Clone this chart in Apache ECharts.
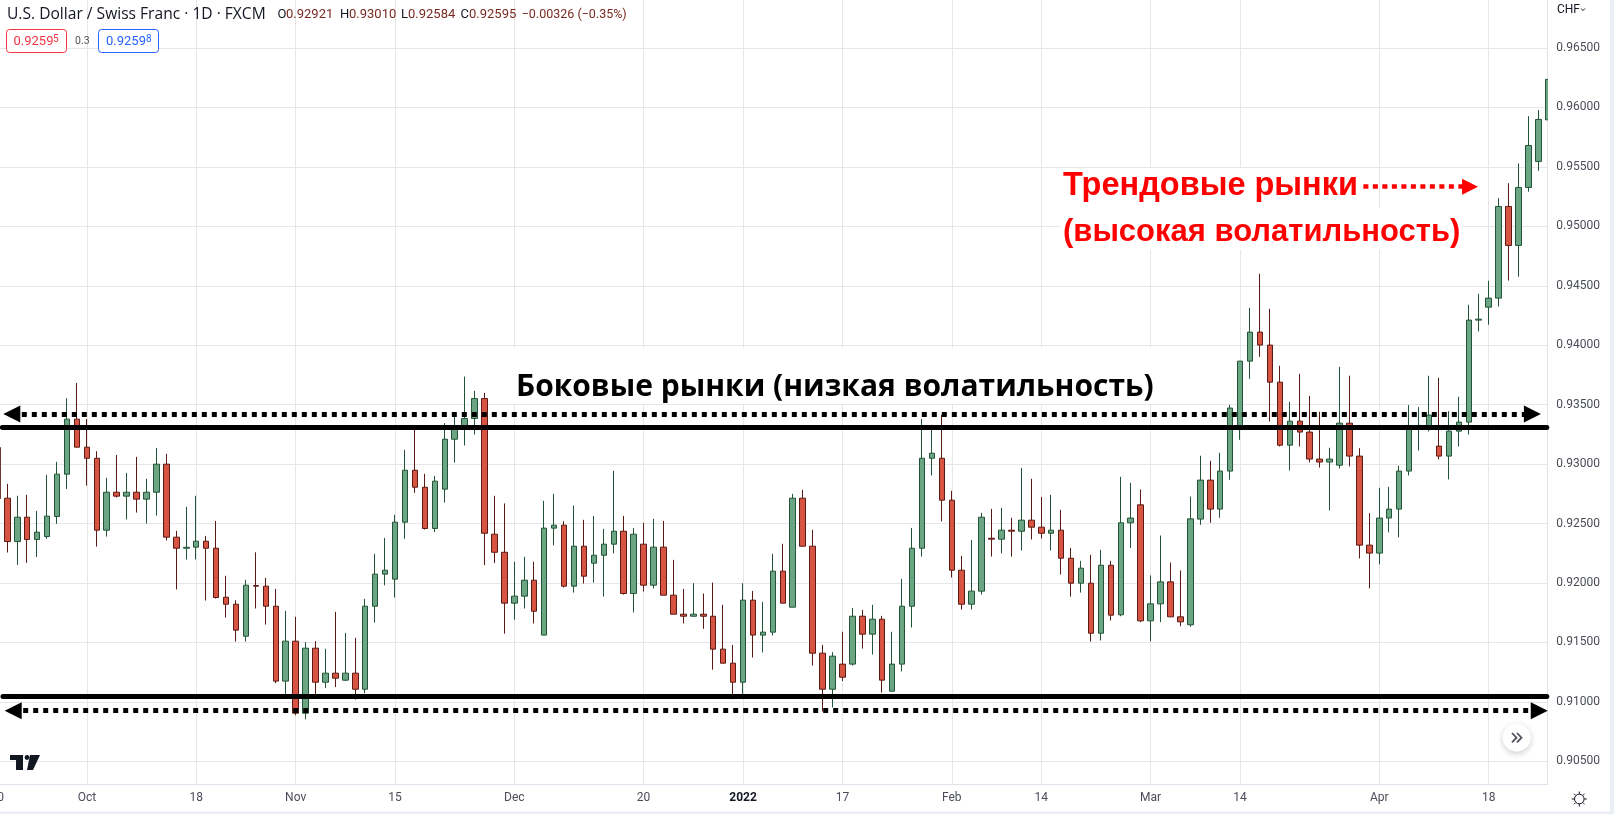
<!DOCTYPE html>
<html>
<head>
<meta charset="utf-8">
<style>html,body{margin:0;padding:0;background:#fff}#c{width:1614px;height:814px}</style>
<script src="https://cdn.jsdelivr.net/npm/echarts@6/dist/echarts.min.js"></script>
</head>
<body>
<div id="c"></div>
<script>
const opens = [.92713,.92348,.92553,.92365,.92390,.92559,.92915,.93378,.93142,.93049,
.92444,.92763,.92730,.92763,.92705,.92763,.92999,.92385,.92292,.92301,
.92351,.92292,.91880,.91821,.91552,.91978,.91973,.91804,.91174,.91510,
.90904,.91451,.91165,.91241,.91182,.91241,.91106,.91804,.92074,.92032,
.92511,.92948,.92805,.92458,.92789,.93209,.93302,.93383,.93551,.92410,
.92258,.91830,.91889,.92023,.91561,.92461,.92486,.91973,.92309,.92166,
.92233,.92326,.92435,.91911,.92326,.91981,.92301,.91897,.91737,.91720,
.91737,.91720,.91443,.91325,.91165,.91855,.91561,.91586,.92099,.91796,
.92713,.92309,.91409,.91106,.91317,.91317,.91720,.91569,.91695,.91089,
.91317,.91804,.92292,.93049,.93049,.92696,.92107,.91821,.91931,.92376,
.92368,.92444,.92435,.92528,.92469,.92418,.92444,.92208,.91998,.91998,
.91577,.92149,.91732,.92506,.92657,.91681,.91824,.92009,.91715,.91648,
.92537,.92865,.92621,.92941,.93316,.93866,.94110,.94001,.93689,.93159,
.93361,.93269,.93042,.93017,.92991,.93344,.93067,.92318,.92251,.92546,
.92621,.92941,.93300,.93316,.93151,.93067,.93277,.93353,.94211,.94320,
.94396,.95167,.94839,.95327,.95546,.95896];
const closes = [.92348,.92553,.92365,.92427,.92562,.92915,.93378,.93142,.93049,.92444,
.92763,.92730,.92763,.92705,.92763,.92999,.92385,.92292,.92300,.92351,
.92292,.91877,.91821,.91603,.91981,.91973,.91804,.91174,.91510,.90904,
.91451,.91165,.91241,.91199,.91241,.91106,.91804,.92074,.92107,.92511,
.92948,.92805,.92458,.92856,.93209,.93310,.93383,.93551,.92418,.92258,
.91830,.91889,.92023,.91762,.92461,.92486,.91973,.92309,.92057,.92233,
.92326,.92435,.91911,.92410,.91981,.92301,.91897,.91737,.91720,.91737,
.91720,.91443,.91325,.91165,.91855,.91561,.91586,.92099,.91830,.92713,
.92309,.91409,.91106,.91384,.91207,.91720,.91569,.91695,.91182,.91317,
.91804,.92292,.93049,.93091,.92696,.92107,.91821,.91931,.92553,.92368,
.92444,.92435,.92528,.92469,.92418,.92444,.92208,.91998,.92124,.91577,
.92149,.91729,.92506,.92546,.91681,.91824,.92009,.91715,.91673,.92539,
.92865,.92621,.92941,.93471,.93866,.94110,.94001,.93689,.93159,.93361,
.93269,.93042,.93017,.93042,.93344,.93067,.92318,.92251,.92546,.92621,
.92941,.93302,.93325,.93412,.93067,.93277,.93353,.94211,.94219,.94396,
.95167,.94839,.95327,.95680,.95899,.96236];
const lows = [.92256,.92152,.92169,.92219,.92371,.92497,.92791,.93142,.92819,.92306,
.92390,.92719,.92534,.92592,.92500,.92567,.92357,.91945,.92197,.92197,
.91852,.91869,.91709,.91507,.91507,.91785,.91650,.91157,.91028,.90887,
.90853,.91059,.91115,.91124,.91174,.91019,.91072,.91667,.91980,.91877,
.92371,.92758,.92449,.92428,.92676,.93013,.93156,.93249,.92150,.92167,
.91573,.91691,.91785,.91659,.91561,.92315,.91962,.91919,.91995,.92003,
.91885,.92248,.91902,.91752,.91928,.91953,.91897,.91737,.91659,.91720,
.91614,.91270,.91325,.91022,.91067,.91373,.91415,.91558,.91830,.91796,
.92309,.91305,.90918,.90952,.91174,.91305,.91448,.91398,.91078,.91089,
.91255,.91625,.92222,.92904,.92517,.92046,.91776,.91776,.91903,.92222,
.92248,.92222,.92273,.92365,.92374,.92273,.92071,.91885,.91919,.91507,
.91516,.91684,.91720,.92293,.91670,.91510,.91670,.91715,.91636,.91631,
.92489,.92506,.92548,.92868,.93204,.93717,.93902,.93358,.93148,.92946,
.93148,.93014,.92971,.92610,.92963,.92980,.92206,.91954,.92156,.92425,
.92383,.92904,.93114,.93274,.93039,.92871,.93148,.93249,.94116,.94172,
.94326,.94544,.94576,.95291,.95467,.95896];
const highs = [.92834,.92733,.92741,.92606,.92909,.93019,.93554,.93683,.93380,.93108,
.92884,.93077,.92926,.93061,.92876,.93136,.93086,.92438,.92640,.92733,
.92396,.92522,.92060,.91855,.92026,.92258,.92043,.91950,.91765,.91715,
.91502,.91510,.91446,.91757,.91580,.91538,.91866,.92245,.92379,.92573,
.93120,.93310,.92918,.92901,.93344,.93406,.93736,.93616,.93599,.92733,
.92669,.92178,.92220,.92178,.92691,.92749,.92520,.92651,.92531,.92564,
.92455,.92943,.92564,.92463,.92505,.92539,.92522,.92194,.91950,.91998,
.91911,.92003,.91816,.91479,.91998,.91933,.91841,.92245,.92329,.92749,
.92783,.92447,.91479,.91418,.91589,.91790,.91774,.91816,.91723,.91589,
.92034,.92463,.93380,.93330,.93414,.92775,.92228,.92362,.92590,.92623,
.92632,.92548,.92968,.92876,.92724,.92741,.92615,.92295,.92186,.92236,
.92278,.92186,.92893,.92842,.92786,.92063,.92399,.92172,.92105,.92727,
.93070,.93028,.93095,.93496,.93866,.94315,.94601,.94306,.93827,.93524,
.93759,.93574,.93440,.93137,.93818,.93743,.93134,.92587,.92800,.92809,
.92986,.93496,.93479,.93743,.93726,.93445,.93566,.94340,.94432,.94542,
.95237,.95363,.95529,.95927,.95978,.96236];
const edgeWick = [.92707,.93142];
const tickIndexes = [9,20,30,40,52,65,75,85,96,105,116,125,139,150];
const tickLabels = ['Oct','18','Nov','15','Dec','20','2022','17','Feb','14','Mar','14','Apr','18'];
const priceTicks = [.905,.91,.915,.92,.925,.93,.935,.94,.945,.95,.955,.96,.965];
const channelLevels = [.93311,.91049];
const arrowLevels = [.93422,.90925];
const trendArrowLevel = .95333;
const sideText = 'Боковые рынки (низкая волатильность)';
const trendText1 = 'Трендовые рынки';
const trendText2 = '(высокая волатильность)';

const rows = opens.map((o,i)=>[i+1,o,closes[i],lows[i],highs[i]]);
const PLOT_R = 1547.3, AXIS_Y = 784.3;
const SUN = [];
for (let k=0;k<8;k++){const a=k*Math.PI/4;SUN.push({type:'line',z:20,shape:{x1:1579.3+5*Math.cos(a),y1:799+5*Math.sin(a),x2:1579.3+7.5*Math.cos(a),y2:799+7.5*Math.sin(a)},style:{stroke:'#131722',lineWidth:1}});}
const txt=(x,y,t,o={})=>({type:'text',x,y,z:20,style:Object.assign({text:t,font:'13px Roboto',fill:'#131722',textVerticalAlign:'middle',verticalAlign:'middle'},o)});
const chart = echarts.init(document.getElementById('c'),null,{renderer:'canvas'});
chart.setOption({
  animation:false,
  backgroundColor:'#fff',
  grid:{left:0,top:0,width:PLOT_R,height:AXIS_Y,containLabel:false},
  xAxis:{type:'value',min:0.2625,max:155.9,splitNumber:1,
    axisLine:{onZero:false,show:true,lineStyle:{color:'#e0e3eb',width:1}},
    axisTick:{show:false,customValues:tickIndexes},
    splitLine:{show:true,lineStyle:{color:'#e6e6e8',width:1}},
    axisLabel:{customValues:tickIndexes,margin:8,fontFamily:'Roboto',fontSize:12,color:'#4a4d57',hideOverlap:false,
      formatter:v=>{const l=tickLabels[tickIndexes.indexOf(Math.round(v))];return l==='2022'?'{b|2022}':l;},
      rich:{b:{fontFamily:'Roboto',fontSize:12,fontWeight:'bold',color:'#131722'}}}},
  yAxis:{type:'value',position:'right',min:0.90306,max:0.96904,scale:true,
    axisLine:{show:true,onZero:false,lineStyle:{color:'#e0e3eb',width:1}},
    axisTick:{show:false,customValues:priceTicks},
    splitLine:{show:true,lineStyle:{color:'#e6e6e8',width:1}},
    axisLabel:{customValues:priceTicks,margin:9,fontFamily:'Roboto',fontSize:12,color:'#4a4d57',padding:[5,0,0,0],formatter:v=>v.toFixed(5)}},
  series:[
    {type:'candlestick',barWidth:6,clip:true,
      encode:{x:0,y:[1,2,3,4]},data:rows,
      itemStyle:{color:'#6ba583',color0:'#d75442',borderColor:'#225437',borderColor0:'#5b1a13',borderWidth:1},
      silent:true,
      markLine:{silent:true,animation:false,label:{show:false},z:8,
        data:[
          [{coord:[0.5,channelLevels[0]],symbol:'none',lineStyle:{color:'#000',width:5,type:'solid',cap:'round'}},{coord:[155.85,channelLevels[0]],symbol:'none'}],
          [{coord:[0.56,channelLevels[1]],symbol:'none',lineStyle:{color:'#000',width:5,type:'solid',cap:'round'}},{coord:[155.85,channelLevels[1]],symbol:'none'}],
          [{coord:[1.45,arrowLevels[0]],symbol:'triangle',symbolSize:17,lineStyle:{color:'#000',width:5,type:[5,5]},itemStyle:{color:'#000'}},{coord:[154.4,arrowLevels[0]],symbol:'triangle',symbolSize:17,itemStyle:{color:'#000'}}],
          [{coord:[1.59,arrowLevels[1]],symbol:'triangle',symbolSize:17,lineStyle:{color:'#000',width:5,type:[5,5]},itemStyle:{color:'#000'}},{coord:[155.09,arrowLevels[1]],symbol:'triangle',symbolSize:17,itemStyle:{color:'#000'}}],
          [{coord:[137.4,trendArrowLevel],symbol:'none',lineStyle:{color:'#f00',width:4.5,type:[5,4.5]},itemStyle:{color:'#f00'}},{coord:[148.13,trendArrowLevel],symbol:'triangle',symbolSize:16,itemStyle:{color:'#f00'}}]
        ]}},
    {type:'line',name:'edge',symbol:'none',silent:true,data:[[0.3,edgeWick[0]],[0.3,edgeWick[1]]],lineStyle:{color:'#5b1a13',width:1}}
  ],
  graphic:{elements:[
    {type:'rect',z:1,shape:{x:505,y:348,width:655,height:56},style:{fill:'#fff'}},
    {type:'rect',z:1,shape:{x:1060,y:168,width:298,height:40},style:{fill:'#fff'}},
    {type:'rect',z:1,shape:{x:1060,y:208,width:402,height:42},style:{fill:'#fff'}},
    {type:'rect',z:15,shape:{x:1548,y:60,width:6,height:70},style:{fill:'#fff'}},
    txt(516,387,sideText,{font:'bold 30px "Open Sans"',fill:'#000'}),
    txt(1063,186,trendText1,{font:'bold 32.5px "Liberation Sans"',fill:'#f00'}),
    txt(1063,232,trendText2,{font:'bold 31px "Liberation Sans"',fill:'#f00'}),
    txt(7,15,'U.S. Dollar / Swiss Franc · 1D · FXCM',{font:'15.6px "Open Sans"',fill:'#131722'}),
    txt(277.5,15,'O',{font:'13px Roboto',fill:'#131722'}),txt(286,15,'0.92921',{font:'13px Roboto',fill:'#7a2a20'}),
    txt(340,15,'H',{font:'13px Roboto',fill:'#131722'}),txt(349,15,'0.93010',{font:'13px Roboto',fill:'#7a2a20'}),
    txt(401,15,'L',{font:'13px Roboto',fill:'#131722'}),txt(408,15,'0.92584',{font:'13px Roboto',fill:'#7a2a20'}),
    txt(460.5,15,'C',{font:'13px Roboto',fill:'#131722'}),txt(469,15,'0.92595',{font:'13px Roboto',fill:'#7a2a20'}),
    txt(521.7,15,'−0.00326 (−0.35%)',{font:'12.5px Roboto',fill:'#7a2a20'}),
    {type:'rect',z:20,shape:{x:6.5,y:29.5,width:60,height:23,r:3},style:{fill:'#fff',stroke:'#f23645',lineWidth:1}},
    txt(13.5,41.5,'0.9259',{font:'13px Roboto',fill:'#f23645'}),txt(53,39,'5',{font:'10px Roboto',fill:'#f23645'}),
    txt(75,41,'0.3',{font:'10.5px Roboto',fill:'#50535e'}),
    {type:'rect',z:20,shape:{x:98.5,y:29.5,width:60,height:23,r:3},style:{fill:'#fff',stroke:'#2962ff',lineWidth:1}},
    txt(106,41.5,'0.9259',{font:'13px Roboto',fill:'#2962ff'}),txt(146,39,'8',{font:'10px Roboto',fill:'#2962ff'}),
    txt(-9.5,797.7,'20',{font:'12px Roboto',fill:'#4a4d57'}),
    txt(1557,10,'CHF',{font:'12px Roboto',fill:'#131722'}),
    {type:'polyline',z:20,shape:{points:[[1581,8.5],[1583,10.5],[1585,8.5]]},style:{stroke:'#131722',lineWidth:1,fill:null}},
    {type:'polygon',z:20,shape:{points:[[10,755],[23,755],[23,770],[16,770],[16,760],[10,760]]},style:{fill:'#131722'}},
    {type:'circle',z:20,shape:{cx:27,cy:757.5,r:2.4},style:{fill:'#131722'}},
    {type:'polygon',z:20,shape:{points:[[30,755],[40,755],[33,770],[27,770]]},style:{fill:'#131722'}},
    {type:'circle',z:20,shape:{cx:1516.7,cy:737.7,r:14},style:{fill:'#fff',shadowBlur:6,shadowColor:'rgba(0,0,0,.2)',shadowOffsetY:2}},
    {type:'polyline',z:21,shape:{points:[[1512,733],[1516.5,737.7],[1512,742.4]]},style:{stroke:'#50535e',lineWidth:1.8,fill:null}},
    {type:'polyline',z:21,shape:{points:[[1517,733],[1521.5,737.7],[1517,742.4]]},style:{stroke:'#50535e',lineWidth:1.8,fill:null}},
    {type:'circle',z:20,shape:{cx:1579.3,cy:799,r:4.8},style:{fill:'#fff',stroke:'#131722',lineWidth:1}},
    ...SUN,
    {type:'rect',z:30,shape:{x:1610,y:0,width:4,height:814},style:{fill:'#eceef5'}},
    {type:'rect',z:30,shape:{x:0,y:811.5,width:1614,height:3},style:{fill:'#eceef5'}}
  ]}
});
</script>
</body>
</html>
